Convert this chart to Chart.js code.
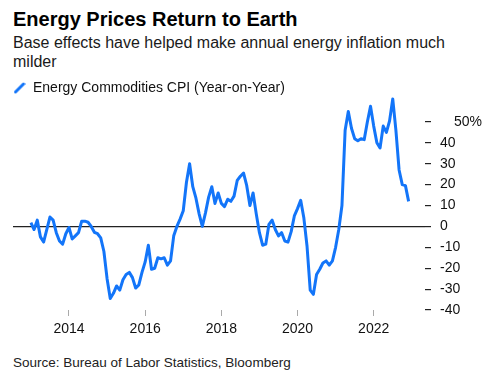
<!DOCTYPE html>
<html>
<head>
<meta charset="utf-8">
<script src="https://cdn.jsdelivr.net/npm/chart.js@4.4.0/dist/chart.umd.min.js"></script>
<style>
  body { margin: 0; background: #fff; font-family: "Liberation Sans", Arial, sans-serif; }
  #wrap { position: relative; width: 487px; height: 391px; overflow: hidden; }
  #title { position: absolute; left: 13px; top: 7px; font-size: 20px; font-weight: bold; line-height: 24px; color: #000; }
  #sub { position: absolute; left: 13px; top: 34px; width: 450px; font-size: 16px; line-height: 18.5px; color: #1a1a1a; }
  #chartBox { position: absolute; left: 0; top: 81px; width: 487px; height: 259px; }
  #source { position: absolute; left: 13px; top: 355px; font-size: 13.5px; line-height: 16px; color: #222; }
</style>
</head>
<body>
<div id="wrap">
  <div id="title">Energy Prices Return to Earth</div>
  <div id="sub">Base effects have helped make annual energy inflation much milder</div>
  <div id="chartBox"><canvas id="chart"></canvas></div>
  <div id="source">Source: Bureau of Labor Statistics, Bloomberg</div>
</div>
<script>
// monthly, Dec 2012 .. Nov 2022, plotted at month end
var startYear = 2012;
var startMonth = 12;
var seriesName = "Energy Commodities CPI (Year-on-Year)";
var cpiYoY = [
  1.8, -1.5, 3, -5, -7.5, -1.5, 4.5, 3, -3, -7, -8.5, -3.5,
  -0.5, -6, -4.5, -3, 2.5, 2.5, 2, 0, -2.8, -3.5, -5.5, -12,
  -25, -34.5, -32, -28.5, -30.5, -25.5, -23, -22, -24.5, -29.5, -28, -22,
  -17, -9, -20.5, -20, -15, -15.5, -15, -18.5, -16.5, -4.5, 0, 3.5,
  7.5, 21, 30, 19, 13.5, 6, 0, 6.5, 14, 19, 11, 16,
  11, 9.5, 13, 12, 14.5, 22, 24, 25.5, 19.5, 10, 16, 6,
  -3, -9, -8.5, 1, 3, -1.5, -4.5, -3, -7, -7.5, -2.5, 5,
  8.5, 12.5, 4, -9.5, -30.5, -32.5, -23, -20.5, -17.5, -16.5, -18.5, -16.5,
  -10, -1.5, 10, 46, 55, 47, 42, 41, 42, 41.5, 50, 57.5,
  48, 40, 37.5, 48, 45, 50.5, 61, 46, 27, 20, 19.5, 12
];
var xTicks = [2014, 2016, 2018, 2020, 2022];
var yTicks = [-40, -30, -20, -10, 0, 10, 20, 30, 40, 50];

var lineColor = "#1375f9";
var fontFam = '"Liberation Sans", Arial, sans-serif';

var points = [];
for (var i = 0; i < cpiYoY.length; i++) {
  points.push({ x: startYear + (startMonth + i) / 12, y: cpiYoY[i] });
}

// slanted legend icon
var icon = document.createElement("canvas");
icon.width = 12;
icon.height = 12;
var ic = icon.getContext("2d");
ic.strokeStyle = lineColor;
ic.lineWidth = 3;
ic.lineCap = "round";
ic.beginPath();
ic.moveTo(2, 10);
ic.lineTo(10, 2);
ic.stroke();

new Chart(document.getElementById("chart"), {
  type: "line",
  data: {
    datasets: [{
      label: seriesName,
      data: points,
      borderColor: lineColor,
      backgroundColor: lineColor,
      borderWidth: 3,
      borderJoinStyle: "round",
      pointRadius: 0,
      tension: 0,
      fill: false,
      clip: false
    }]
  },
  options: {
    responsive: true,
    maintainAspectRatio: false,
    animation: false,
    layout: { padding: { left: 13, right: 0, top: 0, bottom: 0 } },
    plugins: {
      tooltip: { enabled: false },
      legend: {
        position: "top",
        align: "start",
        labels: {
          usePointStyle: true,
          pointStyle: icon,
          pointStyleWidth: 13,
          boxWidth: 12,
          boxHeight: 12,
          padding: 0,
          color: "#111",
          font: { family: fontFam, size: 14 }
        }
      }
    },
    scales: {
      x: {
        type: "linear",
        min: 2012.53,
        max: 2023.347,
        afterBuildTicks: function (s) {
          s.ticks = xTicks.map(function (v) { return { value: v }; });
        },
        afterFit: function (s) { s.height = 30; },
        border: { display: false },
        grid: { drawOnChartArea: false, tickLength: 6, color: "#aaa" },
        ticks: {
          padding: 5,
          color: "#111",
          font: { family: fontFam, size: 14 },
          callback: function (v) { return String(v); }
        }
      },
      y: {
        position: "right",
        min: -40,
        max: 58.1,
        afterBuildTicks: function (s) {
          s.ticks = yTicks.map(function (v) { return { value: v }; });
        },
        afterFit: function (s) { s.width = 62; },
        border: { display: false },
        grid: {
          tickLength: 6,
          lineWidth: 1.2,
          color: function (c) { return c.tick && c.tick.value === 0 ? "#222" : "rgba(0,0,0,0)"; },
          tickColor: "#222"
        },
        ticks: {
          padding: 9,
          color: "#111",
          font: { family: fontFam, size: 14 },
          callback: function (v) { return v === 50 ? "\u2002\u200250%" : String(v); }
        }
      }
    }
  }
});
</script>
</body>
</html>
